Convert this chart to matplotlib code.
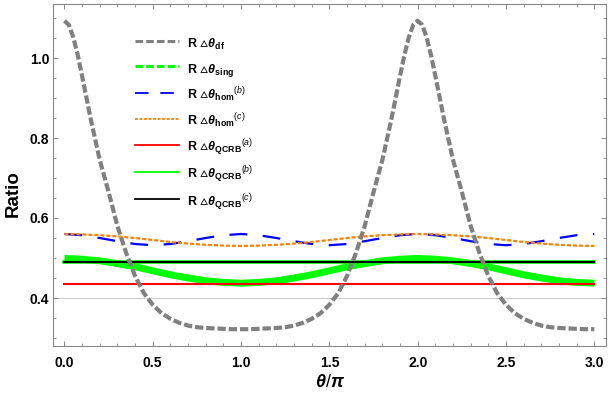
import numpy as np
import matplotlib
matplotlib.use("Agg")
from matplotlib import pyplot as plt
from matplotlib.lines import Line2D
from matplotlib.ticker import MultipleLocator

plt.rcParams['font.family'] = ['Liberation Sans', 'DejaVu Sans']
plt.rcParams['mathtext.fontset'] = 'custom'
plt.rcParams['mathtext.rm'] = 'Liberation Sans'
plt.rcParams['mathtext.it'] = 'Liberation Sans:italic'
plt.rcParams['mathtext.bf'] = 'Liberation Sans:bold'
plt.rcParams['mathtext.bfit'] = 'Liberation Sans:italic:bold'
plt.rcParams['mathtext.fallback'] = 'stixsans'

# theta/pi positions for the df curve (denser near the peaks)
t_df = [0.0, 0.025, 0.05, 0.075, 0.1, 0.15, 0.2, 0.25, 0.3, 0.35, 0.4, 0.45, 0.5,
        0.55, 0.6, 0.65, 0.7, 0.75, 0.8, 0.85, 0.9, 0.95, 1.0,
        1.05, 1.1, 1.15, 1.2, 1.25, 1.3, 1.35, 1.4, 1.45, 1.5, 1.55, 1.6, 1.65, 1.7,
        1.75, 1.8, 1.85, 1.9, 1.925, 1.95, 1.975, 2.0,
        2.025, 2.05, 2.075, 2.1, 2.15, 2.2, 2.25, 2.3, 2.35, 2.4, 2.45, 2.5,
        2.55, 2.6, 2.65, 2.7, 2.75, 2.8, 2.85, 2.9, 2.95, 3.0]

df_vals = [1.093, 1.083, 1.052, 1.008, 0.955, 0.845, 0.745, 0.665, 0.580, 0.512, 0.455, 0.412, 0.383,
           0.362, 0.348, 0.338, 0.331, 0.327, 0.325, 0.324, 0.323, 0.322, 0.322,
           0.322, 0.323, 0.324, 0.325, 0.327, 0.331, 0.338, 0.348, 0.362, 0.383, 0.412, 0.455, 0.512, 0.580,
           0.665, 0.745, 0.845, 0.955, 1.008, 1.052, 1.083, 1.093,
           1.083, 1.052, 1.008, 0.955, 0.845, 0.745, 0.665, 0.580, 0.512, 0.455, 0.412, 0.383,
           0.362, 0.348, 0.338, 0.331, 0.327, 0.325, 0.324, 0.323, 0.322, 0.322]

t_fine = np.round(np.arange(0, 3.0001, 0.1), 1)

sing_vals = [0.499, 0.497, 0.493, 0.486, 0.478, 0.468, 0.458, 0.450, 0.443, 0.439, 0.437,
             0.439, 0.443, 0.450, 0.458, 0.468, 0.478, 0.486, 0.493, 0.497, 0.499,
             0.497, 0.493, 0.486, 0.478, 0.468, 0.458, 0.450, 0.443, 0.439, 0.437]

hom_b_vals = [0.560, 0.557, 0.550, 0.542, 0.535, 0.532, 0.535, 0.542, 0.550, 0.557, 0.560,
              0.557, 0.550, 0.542, 0.535, 0.532, 0.535, 0.542, 0.550, 0.557, 0.560,
              0.557, 0.550, 0.542, 0.535, 0.532, 0.535, 0.542, 0.550, 0.557, 0.560]

hom_c_vals = [0.560, 0.559, 0.557, 0.554, 0.550, 0.545, 0.540, 0.536, 0.533, 0.531, 0.530,
              0.531, 0.533, 0.536, 0.540, 0.545, 0.550, 0.554, 0.557, 0.559, 0.560,
              0.559, 0.557, 0.554, 0.550, 0.545, 0.540, 0.536, 0.533, 0.531, 0.530]

qcrb_a = 0.435
qcrb_b = 0.489
qcrb_c = 0.489

labels = [r"R $▵\boldsymbol{\theta}_{\mathbf{df}}$",
          r"R $▵\boldsymbol{\theta}_{\mathbf{sing}}$",
          r"R $▵\boldsymbol{\theta}_{\mathbf{hom}}{}^{(b)}$",
          r"R $▵\boldsymbol{\theta}_{\mathbf{hom}}{}^{(c)}$",
          r"R $▵\boldsymbol{\theta}_{\mathbf{QCRB}}{}^{(a)}$",
          r"R $▵\boldsymbol{\theta}_{\mathbf{QCRB}}{}^{(b)}$",
          r"R $▵\boldsymbol{\theta}_{\mathbf{QCRB}}{}^{(c)}$"]

fig = plt.figure(figsize=(6.11, 3.96), dpi=100)
ax = fig.add_axes([53.3/611, 1-346/396, (606-53.3)/611, (346-4)/396])

ax.axhline(0.4, color="#cccccc", lw=0.8, zorder=1)

ax.plot(t_fine, sing_vals, color="#00ff00", lw=5, solid_capstyle="butt", zorder=2)
ax.plot(t_fine, hom_b_vals, color="#0000ff", lw=1.6, dashes=(8, 7), zorder=3)
ax.plot(t_fine, hom_c_vals, color="#ff8000", lw=1.6, dashes=(1.8, 0.9), zorder=3.5)
ax.plot([0, 3], [qcrb_a, qcrb_a], color="#ff0000", lw=1.5, zorder=4)
ax.plot([0, 3], [qcrb_b, qcrb_b], color="#00ff00", lw=2.6, zorder=4)
ax.plot([0, 3], [qcrb_c, qcrb_c], color="black", lw=1.5, zorder=5)
ax.plot(t_df, df_vals, color="#808080", lw=3, dashes=(2.0, 0.7), zorder=6)

handles = [Line2D([], [], color="#808080", lw=2.2, dashes=(2.5, 1.0)),
           Line2D([], [], color="#00ff00", lw=2.2, dashes=(2.5, 1.0)),
           Line2D([], [], color="#0000ff", lw=1.3, dashes=(7.5, 6.5)),
           Line2D([], [], color="#ff8000", lw=1.3, dashes=(1.6, 0.9)),
           Line2D([], [], color="#ff0000", lw=1.3),
           Line2D([], [], color="#00ff00", lw=1.3),
           Line2D([], [], color="black", lw=1.3)]
leg = ax.legend(handles, labels, loc="upper left", bbox_to_anchor=(0.137, 0.93),
                frameon=False, prop={"weight": "bold", "size": 9},
                handlelength=3.5, handleheight=1.9, handletextpad=0.65,
                labelspacing=0.54, borderpad=0)

ax.set_xlim(-0.063, 3.066)
ax.set_ylim(0.28, 1.135)
ax.xaxis.set_major_locator(MultipleLocator(0.5))
ax.xaxis.set_minor_locator(MultipleLocator(0.1))
ax.yaxis.set_major_locator(MultipleLocator(0.2))
ax.yaxis.set_minor_locator(MultipleLocator(0.05))
ax.tick_params(which="both", direction="in", top=True, right=True, color="#888888")
ax.tick_params(which="major", length=3.5, width=0.7)
ax.tick_params(which="minor", length=2, width=0.6)
ax.tick_params(axis="x", which="major", pad=7, labelsize=10)
ax.tick_params(axis="y", which="major", pad=3, labelsize=10)
for lab in ax.get_xticklabels() + ax.get_yticklabels():
    lab.set_fontweight("bold")
for s in ax.spines.values():
    s.set_color("#888888")
    s.set_linewidth(0.8)

ax.set_xlabel(r"$\boldsymbol{\theta}/\boldsymbol{\pi}$", fontsize=13, labelpad=3)
ax.set_ylabel("Ratio", fontsize=13.5, fontweight="bold")
ax.yaxis.set_label_coords(-0.057, 0.447)

fig.savefig("out.png", dpi=100)
